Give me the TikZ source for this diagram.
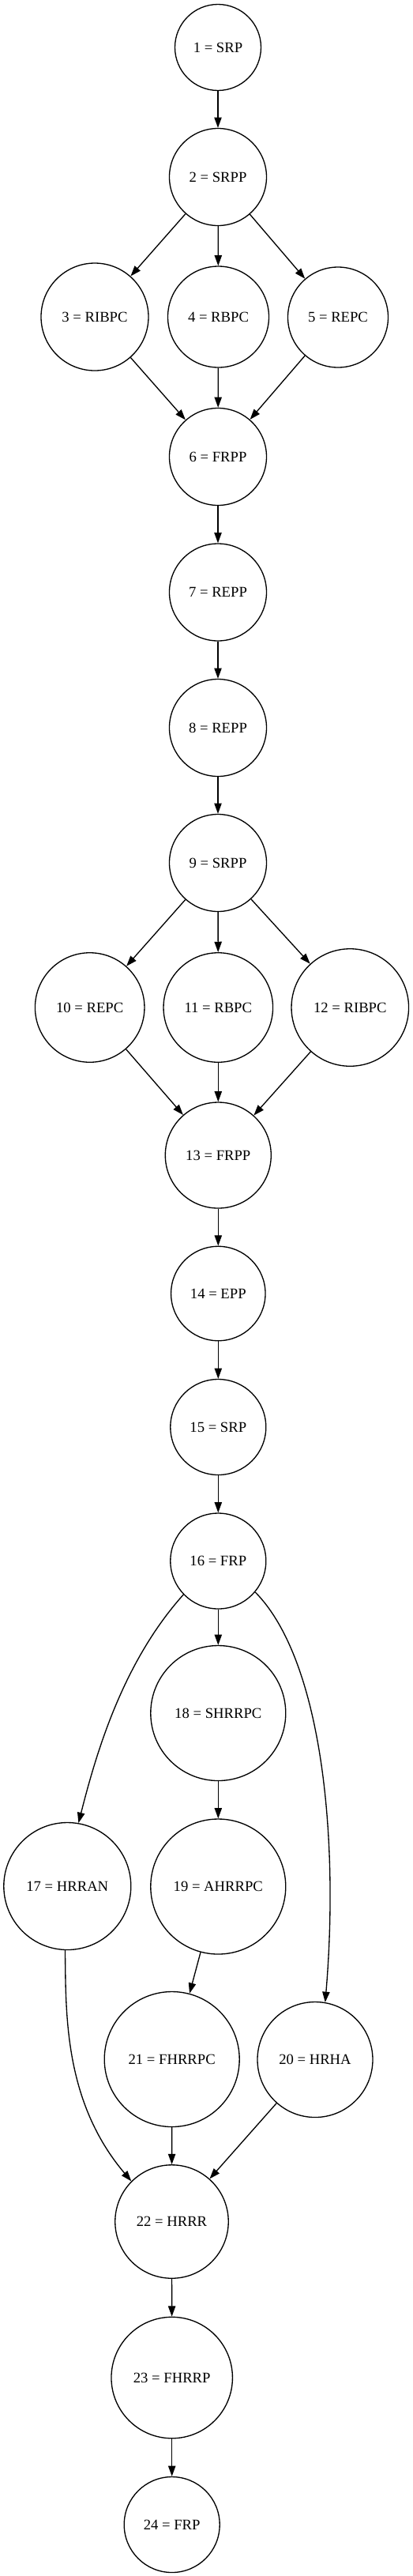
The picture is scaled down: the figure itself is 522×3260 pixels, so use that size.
\documentclass[tikz,border=0pt]{standalone}
\usepackage{fontspec}
\setmainfont{Liberation Serif}
\usetikzlibrary{arrows.meta}
\begin{document}
\begin{tikzpicture}[x=0.75pt,y=-0.75pt,
  st/.style={circle,draw,line width=1pt,inner sep=0pt,font=\fontsize{14pt}{16pt}\selectfont},
  edge/.style={-{Triangle[length=10pt,width=7pt]},line width=1pt}]
\fill[white] (0,0) rectangle (522,3260);
\useasboundingbox (0,0) rectangle (522,3260);
% nodes
\node[st,minimum size=81.75pt]  (n1)  at (276,60)     {1 = SRP};
\node[st,minimum size=92.25pt]  (n2)  at (276,224)    {2 = SRPP};
\node[st,minimum size=102pt]    (n3)  at (120,401)    {3 = RIBPC};
\node[st,minimum size=96pt]     (n4)  at (276.5,401)  {4 = RBPC};
\node[st,minimum size=95.25pt]  (n5)  at (428,401.5)  {5 = REPC};
\node[st,minimum size=92.25pt]  (n6)  at (276,578)    {6 = FRPP};
\node[st,minimum size=92.25pt]  (n7)  at (276,749.5)  {7 = REPP};
\node[st,minimum size=92.25pt]  (n8)  at (276,921)    {8 = REPP};
\node[st,minimum size=92.25pt]  (n9)  at (276,1092)   {9 = SRPP};
\node[st,minimum size=103.9pt]  (n10) at (113.7,1275) {10 = REPC};
\node[st,minimum size=103.9pt]  (n11) at (276.3,1275) {11 = RBPC};
\node[st,minimum size=111.4pt]  (n12) at (443.3,1275) {12 = RIBPC};
\node[st,minimum size=100.5pt]  (n13) at (276.3,1462) {13 = FRPP};
\node[st,minimum size=89.6pt]   (n14) at (276.3,1637) {14 = EPP};
\node[st,minimum size=90.75pt]  (n15) at (276.3,1806) {15 = SRP};
\node[st,minimum size=90.75pt]  (n16) at (276.3,1975.5) {16 = FRP};
\node[st,minimum size=120.75pt] (n17) at (85.3,2387)  {17 = HRRAN};
\node[st,minimum size=128.25pt] (n18) at (276.3,2168) {18 = SHRRPC};
\node[st,minimum size=128.25pt] (n19) at (276.3,2387.5) {19 = AHRRPC};
\node[st,minimum size=109.5pt]  (n20) at (399,2606.5) {20 = HRHA};
\node[st,minimum size=128.25pt] (n21) at (217.7,2606) {21 = FHRRPC};
\node[st,minimum size=107.6pt]  (n22) at (217.5,2811.5) {22 = HRRR};
\node[st,minimum size=115.1pt]  (n23) at (217.7,3009) {23 = FHRRP};
\node[st,minimum size=90.75pt]  (n24) at (217.7,3195) {24 = FRP};
% edges
\draw[edge] (n1) -- (n2);
\draw[edge] (n2) -- (n3);
\draw[edge] (n2) -- (n4);
\draw[edge] (n2) -- (n5);
\draw[edge] (n3) -- (n6);
\draw[edge] (n4) -- (n6);
\draw[edge] (n5) -- (n6);
\draw[edge] (n6) -- (n7);
\draw[edge] (n7) -- (n8);
\draw[edge] (n8) -- (n9);
\draw[edge] (n9) -- (n10);
\draw[edge] (n9) -- (n11);
\draw[edge] (n9) -- (n12);
\draw[edge] (n10) -- (n13);
\draw[edge] (n11) -- (n13);
\draw[edge] (n12) -- (n13);
\draw[edge] (n13) -- (n14);
\draw[edge] (n14) -- (n15);
\draw[edge] (n15) -- (n16);
\draw[edge] (n16) -- (n18);
\draw[edge] (n16.-136) .. controls (155,2104) and (121.7,2219.4) .. (n17.80);
\draw[edge] (n16.-40) .. controls (407.3,2099.9) and (429.6,2323.9) .. (n20.80);
\draw[edge] (n18) -- (n19);
\draw[edge] (n19) -- (n21);
\draw[edge] (n17.-92) .. controls (83.5,2547) and (80.5,2659.2) .. (n22.135);
\draw[edge] (n21) -- (n22);
\draw[edge] (n20) -- (n22);
\draw[edge] (n22) -- (n23);
\draw[edge] (n23) -- (n24);
\end{tikzpicture}
\end{document}
